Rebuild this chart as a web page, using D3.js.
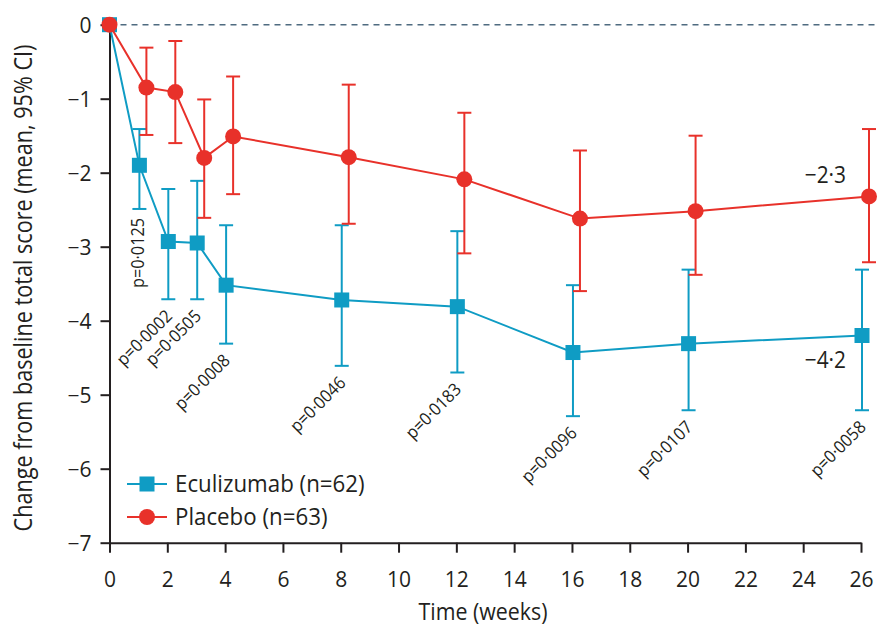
<!DOCTYPE html>
<html><head><meta charset="utf-8">
<script src="https://cdn.jsdelivr.net/npm/d3@7"></script>
<style>body{margin:0;background:#fff;} svg{display:block;} text{font-family:"Open Sans",sans-serif;fill:#231f20;}</style>
</head><body>
<svg id="c" width="877" height="628"></svg>
<script>
const weeks = [0,1,2,3,4,8,12,16,20,26];
const ecuMean = [0,-1.9,-2.93,-2.95,-3.52,-3.72,-3.81,-4.43,-4.31,-4.2];
const ecuLow  = [0,-2.49,-3.71,-3.71,-4.31,-4.61,-4.70,-5.29,-5.21,-5.21];
const ecuHigh = [0,-1.41,-2.22,-2.11,-2.71,-2.71,-2.79,-3.52,-3.31,-3.31];
const plaMean = [0,-0.85,-0.91,-1.8,-1.51,-1.79,-2.09,-2.62,-2.52,-2.32];
const plaLow  = [0,-1.49,-1.6,-2.61,-2.29,-2.69,-3.09,-3.6,-3.38,-3.21];
const plaHigh = [0,-0.31,-0.22,-1.01,-0.70,-0.81,-1.19,-1.70,-1.50,-1.41];
const pValues = ["","p=0·0125","p=0·0002","p=0·0505","p=0·0008","p=0·0046","p=0·0183","p=0·0096","p=0·0107","p=0·0058"];
const xTicks = d3.range(0,27,2);
const yTicks = [0,-1,-2,-3,-4,-5,-6,-7];
const seriesNames = ["Eculizumab (n=62)","Placebo (n=63)"];
const endLabels = ["−4·2","−2·3"];

const BLUE = "#0f9cc4", RED = "#e8312a";
const svg = d3.select("#c");
const x = d3.scaleLinear().domain([0,26]).range([109.5,861]);
const y = d3.scaleLinear().domain([0,-7]).range([24.7,542.7]);
const fmt = d => d < 0 ? "−" + Math.abs(d) : String(d);

// dashed zero line
svg.append("line").attr("x1",x(0)).attr("x2",877).attr("y1",y(0)).attr("y2",y(0))
  .attr("stroke","#4f6b80").attr("stroke-width",1.5).attr("stroke-dasharray","6,5");

// axes
const xAxis = svg.append("g").attr("transform",`translate(0,${y(-7)})`)
  .call(d3.axisBottom(x).tickValues(xTicks).tickSize(10).tickPadding(19).tickSizeOuter(0));
const yAxis = svg.append("g").attr("transform",`translate(${x(0)},0)`)
  .call(d3.axisLeft(y).tickValues(yTicks).tickFormat(fmt).tickSize(9).tickPadding(9).tickSizeOuter(0));
[xAxis,yAxis].forEach(g=>{
  g.select(".domain").attr("stroke","#231f20").attr("stroke-width",2);
  g.selectAll(".tick line").attr("stroke","#231f20").attr("stroke-width",2);
  g.selectAll(".tick text").attr("font-size",21).attr("font-family","Open Sans").attr("fill","#231f20");
});
yAxis.selectAll(".tick text").attr("dy","0.36em");

svg.append("text").attr("transform","translate(483,620) scale(0.93,1)").attr("text-anchor","middle")
  .attr("font-size",23).text("Time (weeks)");
svg.append("text").attr("transform",`translate(32,288) rotate(-90) scale(0.865,1)`).attr("text-anchor","middle")
  .attr("font-size",25).text("Change from baseline total score (mean, 95% CI)");

const dodgeE = 1, dodgeP = 8;
function drawSeries(mean, low, high, color, dodge, shape){
  const g = svg.append("g");
  const px = i => x(weeks[i]) + (i===0?0:dodge);
  const line = d3.line().x((d,i)=>px(i)).y(d=>y(d));
  g.append("path").attr("d",line(mean)).attr("fill","none").attr("stroke",color).attr("stroke-width",2);
  weeks.forEach((w,i)=>{
    if(i===0) return;
    g.append("line").attr("x1",px(i)).attr("x2",px(i)).attr("y1",y(low[i])).attr("y2",y(high[i]))
      .attr("stroke",color).attr("stroke-width",2);
    [low[i],high[i]].forEach(v=>g.append("line").attr("x1",px(i)-7).attr("x2",px(i)+7)
      .attr("y1",y(v)).attr("y2",y(v)).attr("stroke",color).attr("stroke-width",2));
  });
  weeks.forEach((w,i)=>{
    if(shape==="square") g.append("rect").attr("x",px(i)-7.5).attr("y",y(mean[i])-7.5).attr("width",15).attr("height",15).attr("fill",color);
    else g.append("circle").attr("cx",px(i)).attr("cy",y(mean[i])).attr("r",8).attr("fill",color);
  });
  return px;
}
const pxE = drawSeries(ecuMean,ecuLow,ecuHigh,BLUE,dodgeE,"square");
drawSeries(plaMean,plaLow,plaHigh,RED,dodgeP,"circle");

// p-values
weeks.forEach((w,i)=>{
  if(!pValues[i]) return;
  const bx = pxE(i), by = y(ecuLow[i]);
  if(i===1){
    svg.append("text").attr("transform",`translate(${bx+5},${by+9}) rotate(-90) scale(0.93,1)`).attr("text-anchor","end")
      .attr("font-size",17.5).text(pValues[i]);
  } else {
    svg.append("text").attr("transform",`translate(${bx+5},${by+18}) rotate(-45) scale(0.93,1)`).attr("text-anchor","end")
      .attr("font-size",17.5).text(pValues[i]);
  }
});

// end labels
svg.append("text").attr("transform",`translate(846,368) scale(0.87,1)`).attr("text-anchor","end").attr("font-size",24).text(endLabels[0]);
svg.append("text").attr("transform",`translate(846,183) scale(0.87,1)`).attr("text-anchor","end").attr("font-size",24).text(endLabels[1]);

// legend
const leg = [{c:BLUE,s:"square",yy:484},{c:RED,s:"circle",yy:517}];
leg.forEach((l,i)=>{
  svg.append("line").attr("x1",127).attr("x2",167).attr("y1",l.yy).attr("y2",l.yy).attr("stroke",l.c).attr("stroke-width",2);
  if(l.s==="square") svg.append("rect").attr("x",139.5).attr("y",l.yy-7.5).attr("width",15).attr("height",15).attr("fill",l.c);
  else svg.append("circle").attr("cx",147).attr("cy",l.yy).attr("r",8).attr("fill",l.c);
  svg.append("text").attr("transform",`translate(175,${l.yy+8}) scale(0.97,1)`).attr("font-size",23).text(seriesNames[i]);
});
</script>
</body></html>
